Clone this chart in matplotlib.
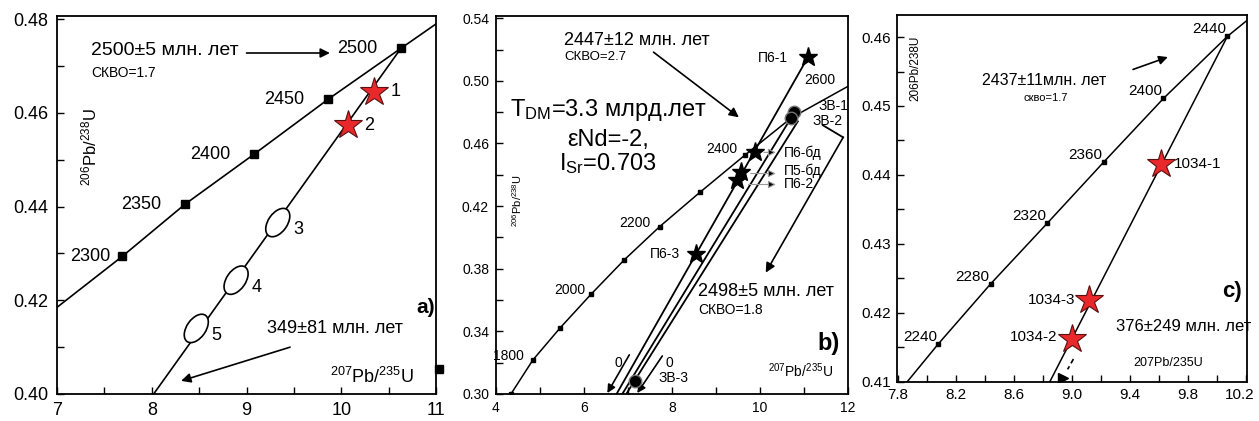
# -*- coding: utf-8 -*-
"""Три U-Pb диаграммы с конкордией (a, b, c)."""

import matplotlib.pyplot as plt
from matplotlib.patches import Ellipse
from matplotlib import transforms
from matplotlib.ticker import MultipleLocator, FormatStrFormatter

plt.rcParams['font.family'] = ['Liberation Sans', 'DejaVu Sans']
plt.rcParams['mathtext.fontset'] = 'custom'
plt.rcParams['mathtext.rm'] = 'Liberation Sans'
plt.rcParams['mathtext.it'] = 'Liberation Sans:italic'
plt.rcParams['mathtext.bf'] = 'Liberation Sans:bold'

# ---------- данные, панель a ----------
conc_a_x = [7.0, 7.69, 8.35, 9.08, 9.86, 10.63, 11.0]
conc_a_y = [0.4185, 0.4294, 0.4405, 0.4512, 0.4629, 0.4738, 0.479]
ages_a = ['2300', '2350', '2400', '2450', '2500']
disc_a_x = [10.63, 8.02]
disc_a_y = [0.4738, 0.40]
stars_a_x = [10.35, 10.07]
stars_a_y = [0.4645, 0.4574]
stars_a_lab = ['1', '2']
ell_a_x = [9.33, 8.89, 8.47]
ell_a_y = [0.4366, 0.4243, 0.4140]
ell_a_lab = ['3', '4', '5']

# ---------- данные, панель b ----------
conc_b_x = [4.34, 4.84, 5.46, 6.17, 6.92, 7.72, 8.63, 9.65, 10.72, 12.0]
conc_b_y = [0.300, 0.3218, 0.3423, 0.3640, 0.3858, 0.4069, 0.4287, 0.4524, 0.4765, 0.4965]
disc_b1_x = [6.74, 11.09]
disc_b1_y = [0.30, 0.5151]
disc_b2_x = [6.87, 10.77]
disc_b2_y = [0.30, 0.4793]
disc_b3_x = [6.96, 10.86]
disc_b3_y = [0.30, 0.4741]
stars_b_x = [11.09, 9.88, 9.56, 9.47, 8.54]
stars_b_y = [0.5151, 0.4543, 0.4415, 0.4364, 0.3896]
circ_b_x = [10.77, 10.70, 7.15]
circ_b_y = [0.4799, 0.4761, 0.3083]
yticks_b = [0.30, 0.34, 0.38, 0.42, 0.46, 0.50, 0.54]

# ---------- данные, панель c ----------
conc_c_x = [7.85, 8.08, 8.44, 8.83, 9.22, 9.63, 10.07, 10.21]
conc_c_y = [0.4096, 0.4155, 0.4242, 0.4330, 0.4419, 0.4511, 0.4601, 0.4625]
ages_c = ['2240', '2280', '2320', '2360', '2400', '2440']
disc_c_x = [10.07, 8.84]
disc_c_y = [0.4601, 0.4097]
stars_c_x = [9.61, 9.12, 9.00]
stars_c_y = [0.4416, 0.4218, 0.4162]
xticks_c = [7.8, 8.2, 8.6, 9.0, 9.4, 9.8, 10.2]

RED = '#e8282b'

fig = plt.figure(figsize=(12.59, 4.21), dpi=100)
ax_a = fig.add_axes([57/1259, 27/421, 379/1259, 378/421])
ax_b = fig.add_axes([496/1259, 27/421, 352/1259, 378/421])
ax_c = fig.add_axes([897/1259, 39/421, 350/1259, 367/421])

for ax in (ax_a, ax_b, ax_c):
    for s in ax.spines.values():
        s.set_linewidth(1.3)
    ax.tick_params(which='both', direction='in', width=1.0, length=5)


def arrow(ax, xy_from, xy_to, lw=1.2, ms=14, **kw):
    ax.annotate('', xy=xy_to, xytext=xy_from,
                arrowprops=dict(arrowstyle='-|>', color='black', lw=lw,
                                mutation_scale=ms, shrinkA=0, shrinkB=0, **kw))


# ================= панель a =================
ax = ax_a
ax.set_xlim(7, 11)
ax.set_ylim(0.40, 0.4807)
ax.xaxis.set_major_locator(MultipleLocator(1))
ax.xaxis.set_minor_locator(MultipleLocator(0.5))
ax.yaxis.set_major_locator(MultipleLocator(0.02))
ax.yaxis.set_minor_locator(MultipleLocator(0.01))
ax.yaxis.set_major_formatter(FormatStrFormatter('%.2f'))
ax.tick_params(labelsize=13, pad=6)

ax.plot(conc_a_x, conc_a_y, color='black', lw=1.2)
ax.plot(conc_a_x[1:6], conc_a_y[1:6], 's', color='black', ms=6)
ax.plot([11.03], [0.4053], 's', color='black', ms=6, clip_on=False)
ax.plot(disc_a_x, disc_a_y, color='black', lw=1.2)
ax.plot(stars_a_x, stars_a_y, '*', ms=21, mfc=RED, mec='#5a1010', mew=0.8)

for i, lab in enumerate(ages_a):
    dx = -9 if i == 0 else -17
    ax.annotate(lab, (conc_a_x[i + 1], conc_a_y[i + 1]), xytext=(dx, 0),
                textcoords='offset points', ha='right', va='center', fontsize=13)

for x, y, lab in zip(stars_a_x, stars_a_y, stars_a_lab):
    ax.annotate(lab, (x, y), xytext=(12, 0), textcoords='offset points',
                ha='left', va='center', fontsize=13)

for x, y, lab in zip(ell_a_x, ell_a_y, ell_a_lab):
    tr = fig.dpi_scale_trans + transforms.ScaledTranslation(x, y, ax.transData)
    ax.add_patch(Ellipse((0, 0), 0.32, 0.19, angle=55, transform=tr,
                         fc='white', ec='black', lw=1.2, zorder=3))
    ax.annotate(lab, (x, y), xytext=(11, -5), textcoords='offset points',
                ha='left', va='center', fontsize=13)

ax.text(7.36, 0.4733, '2500±5 млн. лет', fontsize=14, va='center')
ax.text(7.36, 0.4686, 'СКВО=1.7', fontsize=10, va='center')
arrow(ax, (9.0, 0.4728), (9.88, 0.4728))
ax.text(9.22, 0.4140, '349±81 млн. лет', fontsize=13, va='center')
arrow(ax, (9.46, 0.4100), (8.31, 0.4028))
ax.text(9.88, 0.4036, r'$^{207}$Pb/$^{235}$U', fontsize=13, va='center')
ax.text(10.99, 0.4185, 'a)', fontsize=15, fontweight='bold', ha='right', va='center')
ax.text(7.34, 0.4527, r'$^{206}$Pb/$^{238}$U', fontsize=12, rotation=90,
        ha='center', va='center')

# ================= панель b =================
ax = ax_b
ax.set_xlim(4, 12)
ax.set_ylim(0.30, 0.5414)
ax.xaxis.set_major_locator(MultipleLocator(2))
ax.xaxis.set_minor_locator(MultipleLocator(1))
ax.set_yticks(yticks_b)
ax.set_yticks([t + 0.02 for t in yticks_b[:-1]], minor=True)
ax.yaxis.set_major_formatter(FormatStrFormatter('%.2f'))
ax.tick_params(labelsize=10, pad=5)

ax.plot(conc_b_x, conc_b_y, color='black', lw=1.1)
ax.plot(conc_b_x[:8], conc_b_y[:8], 's', color='black', ms=3)
ax.plot(disc_b1_x, disc_b1_y, color='black', lw=1.3)
ax.plot(disc_b2_x, disc_b2_y, color='black', lw=1.3)
ax.plot(disc_b3_x, disc_b3_y, color='black', lw=1.3)
ax.plot(stars_b_x, stars_b_y, '*', ms=14, color='black', zorder=4)
ax.plot(circ_b_x, circ_b_y, 'o', ms=9, mfc='black', mec='0.45', mew=1.0, zorder=4)

ax.text(5.55, 0.526, '2447±12 млн. лет', fontsize=13, va='center')
ax.text(5.55, 0.5151, 'СКВО=2.7', fontsize=9.5, va='center')
arrow(ax, (7.58, 0.5183), (9.52, 0.4767))
ax.text(6.55, 0.4812, r'T$_{\mathrm{DM}}$=3.3 млрд.лет', fontsize=17, ha='center', va='center')
ax.text(6.55, 0.4620, 'εNd=-2,', fontsize=17, ha='center', va='center')
ax.text(6.55, 0.4472, r'I$_{\mathrm{Sr}}$=0.703', fontsize=17, ha='center', va='center')

ax.text(9.49, 0.4562, '2400', fontsize=10, ha='right', va='center')
ax.text(11.0, 0.5004, '2600', fontsize=10, ha='left', va='center')
ax.text(7.51, 0.4095, '2200', fontsize=10, ha='right', va='center')
ax.text(6.03, 0.3666, '2000', fontsize=10, ha='right', va='center')
ax.text(4.64, 0.3243, '1800', fontsize=10, ha='right', va='center')

ax.text(10.63, 0.5145, 'П6-1', fontsize=10, ha='right', va='center')
ax.text(11.34, 0.4840, 'ЗВ-1', fontsize=10, ha='left', va='center')
ax.text(11.20, 0.4742, 'ЗВ-2', fontsize=10, ha='left', va='center')
ax.plot([11.43, 11.89], [0.4716, 0.4639], color='black', lw=1.3)
arrow(ax, (11.89, 0.4639), (10.13, 0.3775))

for y_l, y_a, x0, lab in [(0.4543, 0.4543, 10.09, 'П6-бд'),
                          (0.4428, 0.4408, 9.79, 'П5-бд'),
                          (0.4338, 0.4338, 9.74, 'П6-2')]:
    ax.annotate('', xy=(10.36, y_a), xytext=(x0, y_a),
                arrowprops=dict(arrowstyle='-|>', ec='0.6', fc='black', lw=0.8,
                                mutation_scale=11, shrinkA=0, shrinkB=0))
    ax.text(10.54, y_l, lab, fontsize=10, ha='left', va='center')

ax.text(8.19, 0.3896, 'П6-3', fontsize=10, ha='right', va='center')
ax.text(8.60, 0.3653, '2498±5 млн. лет', fontsize=13, va='center')
ax.text(8.60, 0.3538, 'СКВО=1.8', fontsize=10, va='center')
ax.text(11.82, 0.332, 'b)', fontsize=17, fontweight='bold', ha='right', va='center')
ax.text(10.18, 0.3147, r'$^{207}$Pb/$^{235}$U', fontsize=10, va='center')

ax.text(6.78, 0.3198, '0', fontsize=10, ha='center', va='center')
arrow(ax, (7.03, 0.325), (6.53, 0.3006), ms=12)
ax.text(7.95, 0.3198, '0', fontsize=10, ha='center', va='center')
arrow(ax, (7.78, 0.3243), (7.21, 0.3006), ms=12)
ax.text(7.69, 0.3102, 'ЗВ-3', fontsize=10, ha='left', va='center')
ax.text(4.48, 0.4236, r'$^{206}$Pb/$^{238}$U', fontsize=8, rotation=90,
        ha='center', va='center')

# ================= панель c =================
ax = ax_c
ax.set_xlim(7.795, 10.205)
ax.set_ylim(0.40996, 0.4632)
ax.set_xticks(xticks_c)
ax.set_xticks([t + 0.2 for t in xticks_c[:-1]], minor=True)
ax.xaxis.set_major_formatter(FormatStrFormatter('%.1f'))
ax.yaxis.set_major_locator(MultipleLocator(0.01))
ax.yaxis.set_minor_locator(MultipleLocator(0.005))
ax.yaxis.set_major_formatter(FormatStrFormatter('%.2f'))
ax.tick_params(labelsize=11, pad=4)

ax.plot(conc_c_x, conc_c_y, color='black', lw=1.1)
ax.plot(conc_c_x[1:7], conc_c_y[1:7], 's', color='black', ms=2.5)
ax.plot(disc_c_x, disc_c_y, color='black', lw=1.1)
ax.plot(stars_c_x, stars_c_y, '*', ms=21, mfc=RED, mec='#5a1010', mew=0.8, zorder=4)

for i, lab in enumerate(ages_c):
    ax.annotate(lab, (conc_c_x[i + 1], conc_c_y[i + 1]), xytext=(-1, 5),
                textcoords='offset points', ha='right', va='center', fontsize=11)

ax.text(9.70, 0.4416, '1034-1', fontsize=11, ha='left', va='center')
ax.text(9.02, 0.4218, '1034-3', fontsize=11, ha='right', va='center')
ax.text(8.90, 0.4165, '1034-2', fontsize=11, ha='right', va='center')

ax.text(8.38, 0.4537, '2437±11млн. лет', fontsize=11.5, va='center')
ax.text(8.82, 0.4511, 'скво=1.7', fontsize=8, ha='center', va='center')
arrow(ax, (9.42, 0.4553), (9.66, 0.4571), ms=13)
ax.text(10.17, 0.4231, 'c)', fontsize=16, fontweight='bold', ha='right', va='center')
ax.text(9.30, 0.4180, '376±249 млн. лет', fontsize=12, va='center')
ax.text(9.42, 0.4127, '207Pb/235U', fontsize=9, va='center')
ax.plot([9.01, 8.97], [0.4133, 0.4118], color='black', lw=1.2, ls=(0, (3, 2)))
ax.plot([8.94], [0.4105], '>', color='black', ms=7)
ax.text(7.92, 0.4555, '206Pb/238U', fontsize=8.5, rotation=90, ha='center', va='center')

# последняя подпись оси x чуть левее, чтобы не выходила за край
fig.canvas.draw()
last = ax.get_xticklabels()[-1]
last.set_transform(last.get_transform() +
                   transforms.ScaledTranslation(-5/72, 0, fig.dpi_scale_trans))

fig.savefig('out.png', dpi=100)
